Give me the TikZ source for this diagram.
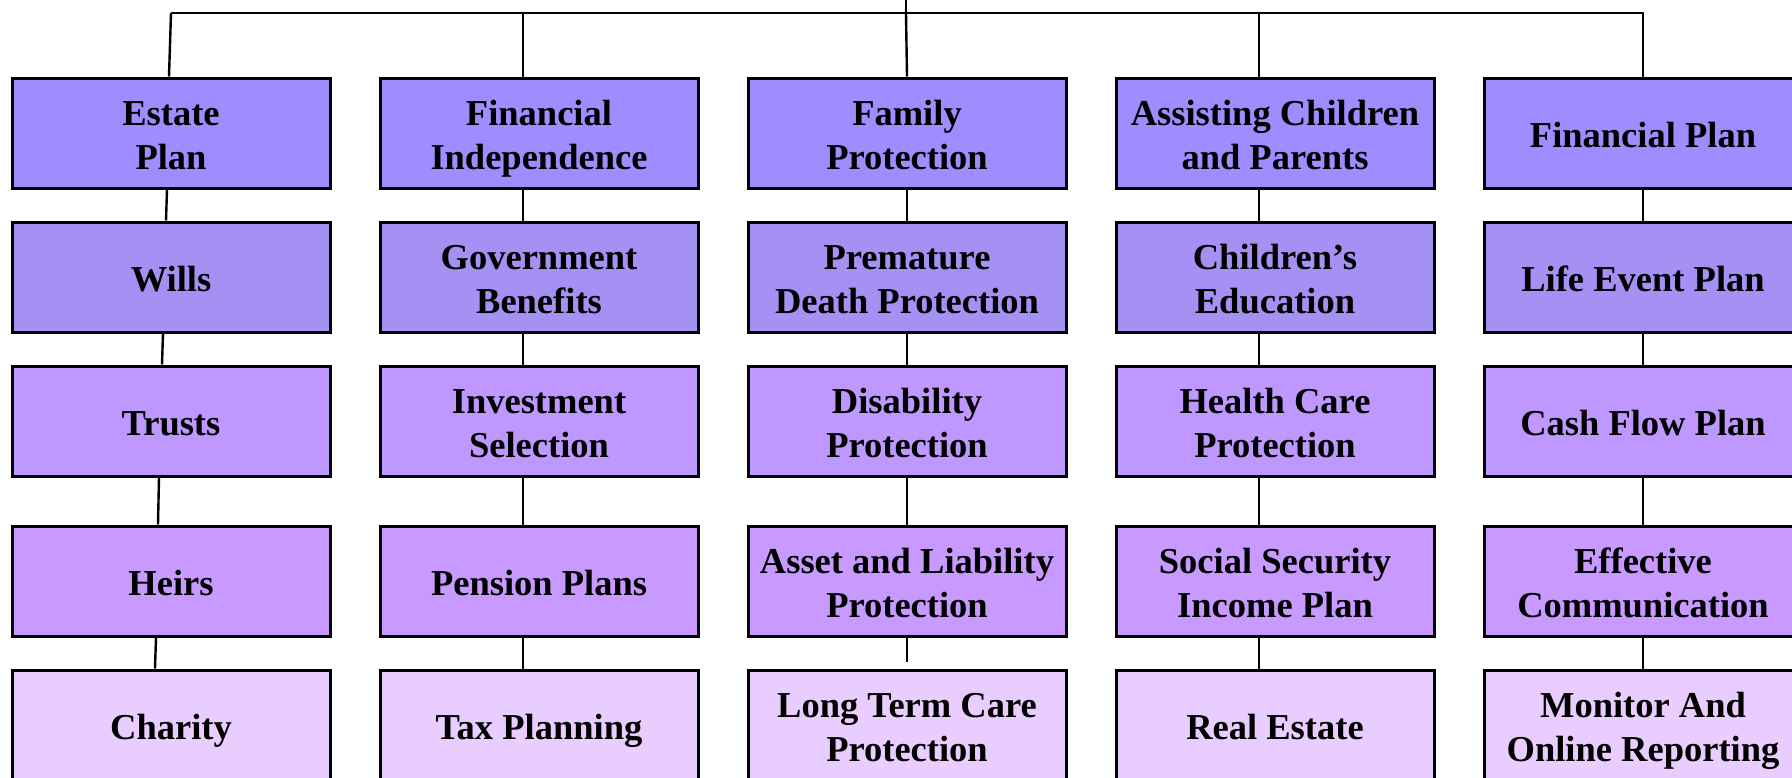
\documentclass[tikz,border=0pt]{standalone}
\usepackage{fontspec}
\setmainfont{Liberation Serif}
\definecolor{rowA}{RGB}{160,140,255}
\definecolor{rowB}{RGB}{165,145,243}
\definecolor{rowC}{RGB}{190,152,255}
\definecolor{rowD}{RGB}{200,153,255}
\definecolor{rowE}{RGB}{234,205,255}
\newcommand\gstrut{\rule[-8pt]{0pt}{44pt}}
\newcommand\two[2]{\gstrut#1\\#2}
\tikzset{
  goal/.style={draw=black, line width=3pt, minimum width=318pt, minimum height=110pt,
    inner sep=0pt, align=center, font=\bfseries\fontsize{36.5}{44}\selectfont,
    execute at begin node=\gstrut, text depth=8pt},
  lvlA/.style={goal, fill=rowA},
  lvlB/.style={goal, fill=rowB},
  lvlC/.style={goal, fill=rowC},
  lvlD/.style={goal, fill=rowD},
  lvlE/.style={goal, fill=rowE},
  link/.style={line width=2.4pt}
}
\begin{document}
\begin{tikzpicture}[x=1pt,y=-1pt]
        \useasboundingbox (0,0) rectangle (1792,777);
        \clip (0,0) rectangle (1792,777);
        \def\S{16pt}    %define offset of the links
        % estate plan
        \node[lvlA] (e1) at (171,133) {\two{Estate}{Plan}};
        \node[lvlB] (e2) at (171,277) {Wills};
        \node[lvlC] (e3) at (171,421) {Trusts};
        \node[lvlD] (e4) at (171,581) {Heirs};
        \node[lvlE] (e5) at (171,725) {Charity};
        % financial independence
        \node[lvlA] (f1) at (539,133) {\two{Financial}{Independence}};
        \node[lvlB] (f2) at (539,277) {\two{Government}{Benefits}};
        \node[lvlC] (f3) at (539,421) {\two{Investment}{Selection}};
        \node[lvlD] (f4) at (539,581) {Pension Plans};
        \node[lvlE] (f5) at (539,725) {Tax Planning};
        % family protection
        \node[lvlA] (p1) at (907,133) {\two{Family}{Protection}};
        \node[lvlB] (p2) at (907,277) {\two{Premature}{Death Protection}};
        \node[lvlC] (p3) at (907,421) {\two{Disability}{Protection}};
        \node[lvlD] (p4) at (907,581) {\two{Asset and Liability}{Protection}};
        \node[lvlE] (p5) at (907,725) {\two{Long Term Care}{Protection}};
        % children and parents
        \node[lvlA] (k1) at (1275,133) {\two{Assisting Children}{and Parents}};
        \node[lvlB] (k2) at (1275,277) {\two{Children’s}{Education}};
        \node[lvlC] (k3) at (1275,421) {\two{Health Care}{Protection}};
        \node[lvlD] (k4) at (1275,581) {\two{Social Security}{Income Plan}};
        \node[lvlE] (k5) at (1275,725) {Real Estate};
        % financial plan
        \node[lvlA] (m1) at (1643,133) {Financial Plan};
        \node[lvlB] (m2) at (1643,277) {Life Event Plan};
        \node[lvlC] (m3) at (1643,421) {Cash Flow Plan};
        \node[lvlD] (m4) at (1643,581) {\two{Effective}{Communication}};
        \node[lvlE] (m5) at (1643,725) {\two{Monitor And}{Online Reporting}};
        % top bar
        \coordinate (root) at (906,0);
        \coordinate (hub) at (906,13);
        \draw[link] (root) -- (hub);
        \draw[link] (e1.north |- hub) -| (m1.north);
        \draw[link] (e1.north |- hub) -- ([xshift=-2pt]e1.north);
        \draw[link] ([xshift=-\S]f1.north |- hub) -- ([xshift=-\S]f1.north);
        \draw[link] (hub) -- (p1.north);
        \draw[link] ([xshift=-\S]k1.north |- hub) -- ([xshift=-\S]k1.north);
        % estate column drifts to the left
        \draw[link] ([xshift=-4pt]e1.south) -- ([xshift=-5pt]e2.north);
        \draw[link] ([xshift=-8pt]e2.south) -- ([xshift=-9pt]e3.north);
        \draw[link] ([xshift=-12pt]e3.south) -- ([xshift=-13pt]e4.north);
        \draw[link] ([xshift=-15pt]e4.south) -- ([xshift=-16pt]e5.north);
        \foreach \c in {f,k}{
          \foreach \i/\j in {1/2,2/3,3/4,4/5}
            \draw[link] ([xshift=-\S]\c\i.south) -- ([xshift=-\S]\c\j.north);
        }
        \foreach \i/\j in {1/2,2/3,3/4}{
          \draw[link] (p\i.south) -- (p\j.north);
          \draw[link] (m\i.south) -- (m\j.north);
        }
        \draw[link,shorten >=7pt] (p4.south) -- (p5.north);
        \draw[link] (m4.south) -- (m5.north);
    \end{tikzpicture}
\end{document}
